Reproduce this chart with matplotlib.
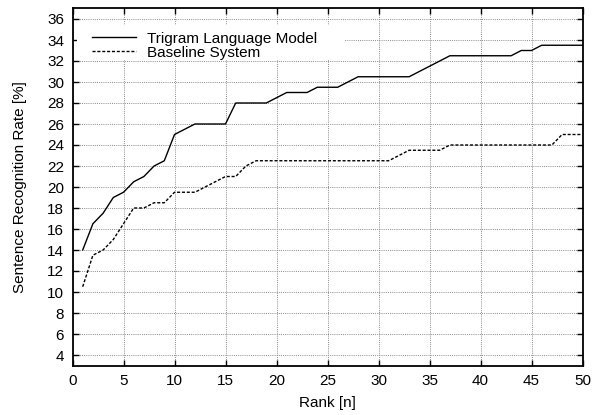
import matplotlib
matplotlib.use("Agg")
import matplotlib.pyplot as plt
from matplotlib.patches import Rectangle

rank = list(range(1, 51))
trigram = [14, 16.5, 17.5, 19, 19.5, 20.5, 21, 22, 22.5, 25,
           25.5, 26, 26, 26, 26, 28, 28, 28, 28, 28.5,
           29, 29, 29, 29.5, 29.5, 29.5, 30, 30.5, 30.5, 30.5,
           30.5, 30.5, 30.5, 31, 31.5, 32, 32.5, 32.5, 32.5, 32.5,
           32.5, 32.5, 32.5, 33, 33, 33.5, 33.5, 33.5, 33.5, 33.5]
baseline = [10.5, 13.5, 14, 15, 16.5, 18, 18, 18.5, 18.5, 19.5,
            19.5, 19.5, 20, 20.5, 21, 21, 22, 22.5, 22.5, 22.5,
            22.5, 22.5, 22.5, 22.5, 22.5, 22.5, 22.5, 22.5, 22.5, 22.5,
            22.5, 23, 23.5, 23.5, 23.5, 23.5, 24, 24, 24, 24,
            24, 24, 24, 24, 24, 24, 24, 25, 25, 25]
x_ticks = list(range(0, 51, 5))
y_ticks = list(range(4, 37, 2))
labels = ["Trigram Language Model", "Baseline System"]

plt.rcParams['font.family'] = ['Liberation Sans', 'DejaVu Sans']
plt.rcParams['font.size'] = 11

fig = plt.figure(figsize=(5.97, 4.15), dpi=100)
ax = fig.add_axes([72.5/597, (415-365.5)/415, 510/597, 357/415])

ax.plot(rank, trigram, color='black', lw=1.0, label=labels[0], zorder=3)
ax.plot(rank, baseline, color='black', lw=1.0, linestyle=(0, (2.2, 1.3)), label=labels[1], zorder=3)

ax.set_xlim(0, 50)
ax.set_ylim(3, 37)
ax.set_xticks(x_ticks)
ax.set_yticks(y_ticks)
ax.set_axisbelow(True)
ax.grid(True, color='#8c8c8c', linestyle=(0, (1, 1.2)), lw=0.7)
ax.tick_params(direction='in', length=4.5, width=1.0, top=True, right=True,
               labelsize=11, pad=6, colors='black')
for s in ax.spines.values():
    s.set_linewidth(1.3)

ax.add_patch(Rectangle((0.009, 0.856), 0.525, 0.098, transform=ax.transAxes,
                       facecolor='white', edgecolor='none', zorder=1))

ax.legend(loc='upper left', bbox_to_anchor=(0.0176, 0.965), frameon=False,
          handlelength=2.9, handletextpad=0.7, labelspacing=0.0,
          borderaxespad=0.3, fontsize=11)

ax.set_xlabel("Rank [n]", fontsize=11, labelpad=6)
ax.set_ylabel("Sentence Recognition Rate [%]", fontsize=11, labelpad=14.5)

fig.savefig("out.png", dpi=100)
